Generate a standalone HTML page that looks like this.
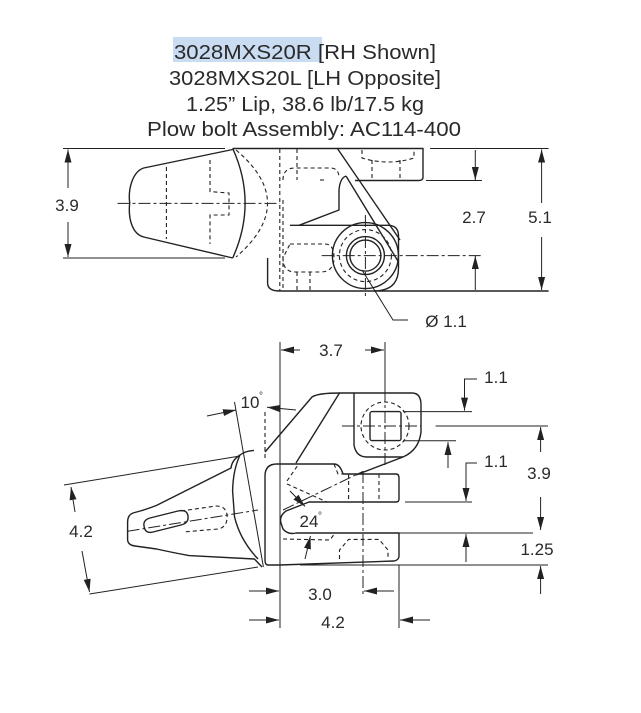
<!DOCTYPE html>
<html><head><meta charset="utf-8"><style>
html,body{margin:0;padding:0;background:#fff;}
svg{display:block;}
text{font-family:"Liberation Sans",sans-serif;fill:#2a2a2a;}
</style></head><body>
<svg width="641" height="713" viewBox="0 0 641 713" xmlns="http://www.w3.org/2000/svg">
<defs>
<marker id="a" markerUnits="userSpaceOnUse" markerWidth="14" markerHeight="8" refX="13" refY="3.5" orient="auto">
<path d="M0,0 L13,3.5 L0,7 z" fill="#222"/>
</marker>
</defs>
<!-- title -->
<rect x="173" y="37" width="149" height="25" fill="#c9dcf2"/>
<g font-size="20" text-anchor="middle">
<text x="305" y="59" textLength="262" lengthAdjust="spacingAndGlyphs">3028MXS20R [RH Shown]</text>
<text x="305" y="85" textLength="272" lengthAdjust="spacingAndGlyphs">3028MXS20L [LH Opposite]</text>
<text x="305" y="111" textLength="238" lengthAdjust="spacingAndGlyphs">1.25” Lip, 38.6 lb/17.5 kg</text>
<text x="304" y="136" textLength="314" lengthAdjust="spacingAndGlyphs">Plow bolt Assembly: AC114-400</text>
</g>

<!-- ===== TOP VIEW ===== -->
<g fill="none" stroke="#222" stroke-width="1.4" stroke-linejoin="round">
<!-- tooth -->
<path d="M232.7,149.5 L143.7,168 C132,172 128,190 129.7,203 C128,218 132,234 143.7,237 L232.7,258"/>
<path d="M232.7,148.5 Q257.5,203 232.7,258"/>
<!-- body -->
<path d="M232.7,148.5 L423,148.5 L423,177 Q423,180.5 419,180.5 L355,180.5"/>
<path d="M337.4,148.5 L400,240"/>
<path d="M346,176 Q340,178 339,190 L339,210 L299,225.3"/>
<path d="M346,176 L398.5,262"/>
<path d="M290,225.3 L388,225.3 Q398.5,225.3 398.5,236 L398.5,268 Q398.5,291 374,291"/>
<path d="M267.6,258 L267.6,283 Q267.6,291 279.8,291 L548.6,291"/>
<circle cx="365.4" cy="255.6" r="33"/>
<circle cx="365.4" cy="255.6" r="19"/>
<circle cx="365.4" cy="255.6" r="15.5"/>
</g>
<g fill="none" stroke="#222" stroke-width="1.1" stroke-dasharray="4,3">
<path d="M236,150 Q299,203 236,257"/>
<path d="M166.4,167 L166.4,239"/>
<path d="M210,160 L210,191.6 L229,193 L229,215 L210,215 L210,244"/>
<path d="M279.8,149 L279.8,291 M297,149 L297,180"/>
<path d="M283,180 Q283,168 295,168 L330,168 Q339,168 339,178"/>
<path d="M290,244 L325,244 Q334,244 334,258 Q334,272 320,272 L295,272 Q283,272 283,258 Z"/>
<path d="M283,200 L283,291 M297,272 L297,291 M310,272 L310,291"/>
<path d="M362,150 L362,158 Q388,166 414,158 L414,150"/>
<path d="M372,160 L372,180 M400,160 L400,180"/>
<circle cx="365.4" cy="255.6" r="26"/>
<path d="M320,180 L325,180"/>
</g>
<g fill="none" stroke="#222" stroke-width="1" stroke-dasharray="12,3,3,3">
<path d="M117.5,203.4 L279.8,203.4"/>
<path d="M321.7,255.6 L482,255.6"/>
<path d="M365.4,215 L365.4,298"/>
</g>
<!-- top dims -->
<g stroke="#222" stroke-width="1" fill="none">
<path d="M63,148.5 L225,148.5 M63,258 L225,258"/>
<path d="M68,188 L68,149.5" marker-end="url(#a)"/>
<path d="M68,222 L68,257" marker-end="url(#a)"/>
<path d="M426,180.5 L482,180.5"/>
<path d="M475.3,150 L475.3,180" marker-end="url(#a)"/>
<path d="M475.3,290 L475.3,256" marker-end="url(#a)"/>
<path d="M430,148.5 L548.6,148.5"/>
<path d="M541.6,203 L541.6,149.5" marker-end="url(#a)"/>
<path d="M541.6,237 L541.6,290" marker-end="url(#a)"/>
<path d="M362,270 L393,320 L408,320"/>
</g>
<g font-size="17" text-anchor="middle">
<text x="67" y="211">3.9</text>
<text x="474" y="223">2.7</text>
<text x="540" y="223">5.1</text>
<text x="446" y="327">Ø 1.1</text>
</g>

<!-- ===== BOTTOM VIEW ===== -->
<g fill="none" stroke="#222" stroke-width="1.4" stroke-linejoin="round">
<!-- upper body -->
<path d="M265,452 L312,397 Q318,393 339.5,393 L412,393 Q421,393 421,405 L421,432 Q419,450 403,457 L356,475"/>
<path d="M339.5,393 L296,463"/>
<path d="M354,393 L354,445 Q356,457 367,457 L403,457"/>
<rect x="370" y="411.6" width="31" height="29" rx="2"/>
<!-- lower body -->
<path d="M277,464 L334,464 Q340,464 343,474 L396,474 Q399,474 399,478 L399,499 Q399,502 396,502 L309,502 L286,511 Q279,516 281,523 L283,529 Q288,535 296,533 L399,533 L399,556 Q399,560 394,561 L280,565 L268,565 Q265,565 265,560 L265,476 Q265,464 277,464 Z"/>
<!-- tooth -->
<path d="M254,450.4 Q245,451 240,455 Q232,460 231,468 L156.6,505.4 Q145,510 133,513 Q127.6,515 127.6,522 L127.6,540 Q128,545 135,546 L156.6,549 Q170,552 189,555.6 L254.4,559 L262,567"/>
<path d="M240,455 Q233,470 232.6,491 L234.5,516.7 Q240,540 258,559"/>
<path d="M150,518 L178,511 Q187,509 188,516 Q189,523 181,525 L153,532 Q145,534 144,526 Q143,520 150,518 Z"/>
</g>
<g fill="none" stroke="#222" stroke-width="1.1" stroke-dasharray="4,3">
<circle cx="385" cy="426" r="24"/>
<path d="M265,458 L265,410"/>
<path d="M181,511 L216,506 Q226,506 227,515 Q228,527 218,529 L183,532"/>
<path d="M287,484 L327,502 M287,481 L298,465"/>
<path d="M334,464 L338,474 L343,474"/>
<path d="M348.6,474 L348.6,502 M379,474 L379,502"/>
<path d="M283,539 L330,540 L335,533"/>
<path d="M339.5,559 L339.5,550 L348.6,539.4 L379,539.4 L388,550 L388,559"/>
</g>
<g fill="none" stroke="#222" stroke-width="1" stroke-dasharray="12,3,3,3">
<path d="M342,426 L421,426"/>
<path d="M385,390 L385,468"/>
<path d="M363,471 L363,594"/>
<path d="M283,510 L363,471.4"/>
<path d="M127.6,531.3 L258,510"/>
</g>
<!-- bottom dims -->
<g stroke="#222" stroke-width="1" fill="none">
<path d="M280,342 L280,628"/>
<path d="M385,342 L385,390"/>
<path d="M300,350 L281,350" marker-end="url(#a)"/>
<path d="M365,350 L384,350" marker-end="url(#a)"/>
<!-- 1.1 top -->
<path d="M403,411.6 L472,411.6 M403,440.7 L456,440.7"/>
<path d="M477,379 L464.5,379 L464.5,410.6" marker-end="url(#a)"/>
<path d="M448,468 L448,442" marker-end="url(#a)"/>
<!-- center ext -->
<path d="M435.6,426 L548,426"/>
<path d="M540.6,452 L540.6,427" marker-end="url(#a)"/>
<path d="M540.6,497 L540.6,530" marker-end="url(#a)"/>
<!-- 1.1 second -->
<path d="M405,502 L472,502"/>
<path d="M477,463 L466,463 L466,501" marker-end="url(#a)"/>
<path d="M296,533 L533,533"/>
<path d="M466,562 L466,534" marker-end="url(#a)"/>
<path d="M300,565 L548,565"/>
<path d="M540.6,594 L540.6,566" marker-end="url(#a)"/>
<!-- 3.0 / 4.2 -->
<path d="M249,591 L279,591" marker-end="url(#a)"/>
<path d="M394,591 L364,591" marker-end="url(#a)"/>
<path d="M399,565 L399,628"/>
<path d="M249,620 L279,620" marker-end="url(#a)"/>
<path d="M430,620 L400,620" marker-end="url(#a)"/>
<!-- 10 deg -->
<path d="M234.5,402 L263.4,567"/>
<path d="M207,416 L236,410" marker-end="url(#a)"/>
<path d="M296,410 L267,407.3" marker-end="url(#a)"/>
<!-- 4.2 left -->
<path d="M64,485 L240,456 M89.5,594 L258,567"/>
<path d="M75,512 L71,487" marker-end="url(#a)"/>
<path d="M82,551 L89.5,592" marker-end="url(#a)"/>
<!-- 24 deg -->
<path d="M290,491 L305,506.4" marker-end="url(#a)"/>
<path d="M305,559 L310.5,536" marker-end="url(#a)"/>
</g>
<g font-size="17" text-anchor="middle">
<text x="331" y="356">3.7</text>
<text x="496" y="383">1.1</text>
<text x="496" y="467">1.1</text>
<text x="539" y="479">3.9</text>
<text x="537" y="555">1.25</text>
<text x="320" y="600">3.0</text>
<text x="333" y="628">4.2</text>
<text x="81" y="537">4.2</text>
<text x="250" y="408">10</text>
<text x="309" y="527">24</text>
</g>
<g font-size="10"><text x="259" y="399">°</text><text x="318" y="519">°</text></g>
</svg>
</body></html>
